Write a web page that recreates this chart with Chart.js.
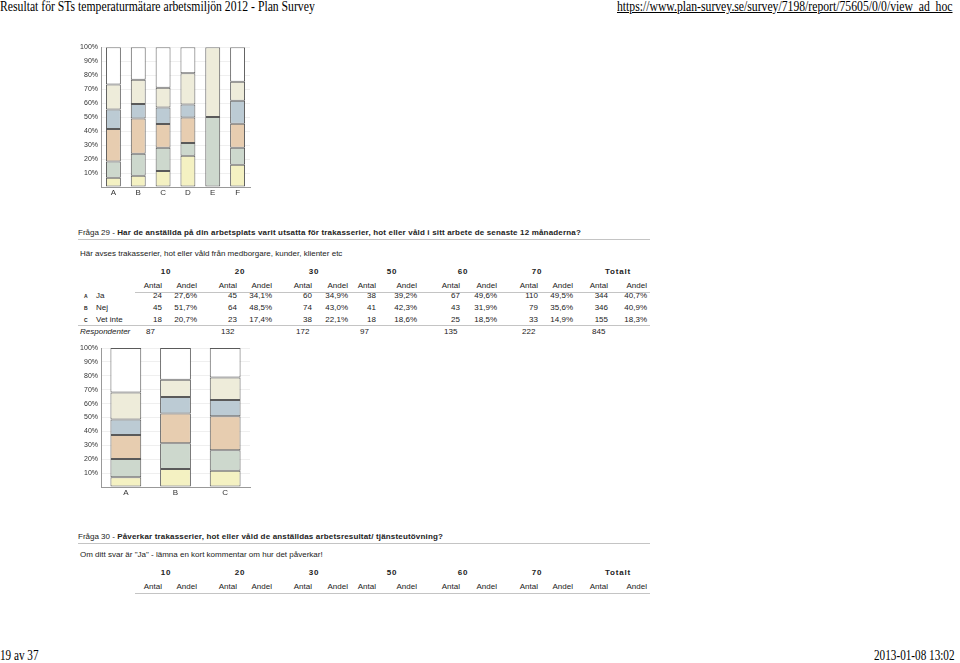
<!DOCTYPE html>
<html>
<head>
<meta charset="utf-8">
<script src="https://cdn.jsdelivr.net/npm/chart.js@4.4.1/dist/chart.umd.min.js"></script>
<style>
  html, body { margin: 0; padding: 0; background: #fff; }
  body { width: 960px; height: 663px; position: relative; overflow: hidden; }
  .t { position: absolute; white-space: nowrap; font-family: "Liberation Sans", Arial, sans-serif;
       font-size: 8px; color: #222; line-height: 10px; }
  .t b { letter-spacing: 0.17px; }
  .serif { font-family: "Liberation Serif", "Times New Roman", serif; font-size: 14px; color: #000;
           line-height: 14px; transform-origin: left center; }
  .b { font-weight: bold; letter-spacing: 0.8px; }
  .rule { position: absolute; height: 1px; background: #c4c4c4; }
  canvas { position: absolute; }
</style>
</head>
<body>
<canvas id="topChart" width="190" height="162" style="left:70px;top:40px"></canvas>
<canvas id="bottomChart" width="190" height="162" style="left:70px;top:340px"></canvas>
<script>
// previous question (cut off at top of page): six answers, share per group in %
const topCats = ['A', 'B', 'C', 'D', 'E', 'F'];
const top10 = [6.7, 8.1, 11.4, 22.4, 0, 16.0];
const top20 = [11.6, 15.7, 16.7, 9.0, 50, 12.1];
const top30 = [23.1, 25.2, 16.9, 18.4, 0, 17.1];
const top50 = [14.1, 10.3, 11.9, 9.2, 0, 16.5];
const top60 = [17.8, 17.4, 14.1, 22.4, 50, 13.5];
const top70 = [26.7, 23.3, 29.0, 18.6, 0, 24.8];

// Fråga 29 table
const groups = ['10', '20', '30', '50', '60', '70', 'Totalt'];
const answerLetters = ['A', 'B', 'C'];
const answerLabels = ['Ja', 'Nej', 'Vet inte'];
const antalJa = [24, 45, 60, 38, 67, 110, 344];
const andelJa = ['27,6%', '34,1%', '34,9%', '39,2%', '49,6%', '49,5%', '40,7%'];
const antalNej = [45, 64, 74, 41, 43, 79, 346];
const andelNej = ['51,7%', '48,5%', '43,0%', '42,3%', '31,9%', '35,6%', '40,9%'];
const antalVetInte = [18, 23, 38, 18, 25, 33, 155];
const andelVetInte = ['20,7%', '17,4%', '22,1%', '18,6%', '18,5%', '14,9%', '18,3%'];
const respondenter = [87, 132, 172, 97, 135, 222, 845];

const groupColors = ['#f4f1c2', '#cdd8cd', '#e7cdb0', '#bccbd4', '#eeecda', '#ffffff'];

// --- page text ---
function put(text, x, y, cls, align) {
  const el = document.createElement('div');
  el.className = 't ' + (cls || '');
  el.innerHTML = text;
  el.style.top = (y - 5) + 'px';
  el.style.left = x + 'px';
  if (align === 'right') el.style.transform = 'translateX(-100%)';
  else if (align === 'center') el.style.transform = 'translateX(-50%)';
  document.body.appendChild(el);
  return el;
}
function rule(x1, x2, y) {
  const el = document.createElement('div');
  el.className = 'rule';
  el.style.left = x1 + 'px'; el.style.width = (x2 - x1) + 'px'; el.style.top = y + 'px';
  document.body.appendChild(el);
}

let h = put('Resultat för STs temperaturmätare arbetsmiljön 2012 - Plan Survey', 0, 5, 'serif');
h.style.transform = 'scaleX(0.835)';
h = put('<u>https://www.plan-survey.se/survey/7198/report/75605/0/0/view_ad_hoc</u>', 617, 5, 'serif');
h.style.transform = 'scaleX(0.835)';
h = put('19 av 37', 0, 654, 'serif');
h.style.transform = 'scaleX(0.8)';
h = put('2013-01-08 13:02', 874, 654, 'serif');
h.style.transform = 'scaleX(0.8)';

const headX = [166, 240, 314, 392, 463, 537, 618];
const antalX = [162, 237, 312, 376, 460, 538, 608];
const andelX = [197, 272, 348, 417, 497, 573, 647];

function tableHead(y) {
  groups.forEach((g, i) => {
    put(g, headX[i], y, 'b', 'center');
    put('Antal', antalX[i], y + 14, '', 'right');
    put('Andel', andelX[i], y + 14, '', 'right');
  });
  rule(135, 650, y + 20);
}

put('Fråga 29 - <b>Har de anställda på din arbetsplats varit utsatta för trakasserier, hot eller våld i sitt arbete de senaste 12 månaderna?</b>', 78, 233);
rule(78, 650, 239);
put('Här avses trakasserier, hot eller våld från medborgare, kunder, klienter etc', 80, 254);
tableHead(272);
const antalRows = [antalJa, antalNej, antalVetInte];
const andelRows = [andelJa, andelNej, andelVetInte];
const rowY = [296, 308, 320];
answerLabels.forEach((lab, r) => {
  const l = put(answerLetters[r], 84, rowY[r], 'b');
  l.style.fontSize = '5px';
  l.style.letterSpacing = '0';
  put(lab, 96, rowY[r]);
  antalRows[r].forEach((v, i) => {
    put(String(v), antalX[i], rowY[r], '', 'right');
    put(andelRows[r][i], andelX[i], rowY[r], '', 'right');
  });
});
rule(78, 650, 325);
put('<i>Respondenter</i>', 80, 332);
respondenter.forEach((v, i) => put(String(v), antalX[i] - 16, 332));

put('Fråga 30 - <b>Påverkar trakasserier, hot eller våld de anställdas arbetsresultat/ tjänsteutövning?</b>', 78, 537);
rule(78, 650, 543);
put('Om ditt svar är "Ja" - lämna en kort kommentar om hur det påverkar!', 80, 555);
tableHead(573);

// --- charts ---
const baseOptions = (padTop, padRight, barPct) => ({
  responsive: false,
  animation: false,
  devicePixelRatio: 1,
  layout: { padding: { top: padTop, right: padRight, left: 0, bottom: 0 } },
  plugins: { legend: { display: false }, tooltip: { enabled: false } },
  datasets: { bar: { barPercentage: barPct, categoryPercentage: 1 } },
  scales: {
    x: {
      stacked: true,
      grid: { display: false, drawTicks: false },
      border: { color: '#999' },
      ticks: { color: '#333', font: { size: 8 }, padding: 1 },
      afterFit: s => { s.height = 15; }
    },
    y: {
      stacked: true, min: 0, max: 100,
      grid: { color: '#efefef', drawTicks: false },
      border: { color: '#999' },
      ticks: { stepSize: 10, color: '#333', font: { size: 7 }, padding: 3,
               callback: v => v === 0 ? '' : v + '%' },
      afterFit: s => { s.width = 31; }
    }
  }
});

Chart.defaults.font.family = '"Liberation Sans", Arial, sans-serif';

const topSeries = [top10, top20, top30, top50, top60, top70];
new Chart(document.getElementById('topChart'), {
  type: 'bar',
  data: {
    labels: topCats,
    datasets: topSeries.map((d, i) => ({
      label: groups[i], data: d, backgroundColor: groupColors[i],
      borderColor: '#5a5a5a', borderWidth: 1, borderSkipped: false
    }))
  },
  options: baseOptions(7, 10, 0.6)
});

// Fråga 29: share of each group within each answer, from the Antal counts
const answerCounts = [antalJa, antalNej, antalVetInte];
new Chart(document.getElementById('bottomChart'), {
  type: 'bar',
  data: {
    labels: answerLetters,
    datasets: groups.slice(0, 6).map((g, i) => ({
      label: g,
      data: answerCounts.map(c => c[i] / c[6] * 100),
      backgroundColor: groupColors[i],
      borderColor: '#5a5a5a', borderWidth: 1, borderSkipped: false
    }))
  },
  options: baseOptions(8, 10, 0.62)
});
</script>
</body>
</html>
